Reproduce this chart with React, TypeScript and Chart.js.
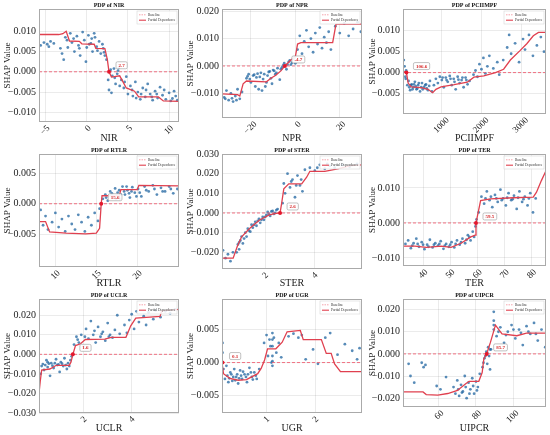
import React, { useEffect, useRef } from "react";
import Chart from "chart.js/auto";

Chart.defaults.font.family = "'Liberation Serif', 'DejaVu Serif', serif";
Chart.defaults.color = "#222";

type Pt = [number, number];

// NIR
const nirPoints: Pt[] = [
  [-5.6, 0.0065], [-5.2, 0.0072], [-4.8, 0.0068], [-4.6, 0.0062], [-4.4, 0.0075], [-4.0, 0.007],
  [-3.2, 0.0058], [-3.0, 0.0045], [-2.8, 0.003], [-2.6, 0.0085], [-2.4, 0.0078], [-2.3, 0.006],
  [-2.0, 0.0095], [-1.8, 0.0072], [-1.6, 0.0082], [-1.5, 0.005], [-1.2, 0.0088], [-1.0, 0.0065],
  [-0.9, 0.0058], [-0.8, 0.004], [-0.5, 0.0098], [-0.3, 0.0078], [-0.1, 0.0025], [0.0, 0.006],
  [0.2, 0.009], [0.3, 0.0068], [0.5, 0.007], [0.6, 0.0082], [0.7, 0.005], [0.9, 0.0095],
  [1.0, 0.0085], [1.2, 0.0062], [1.3, 0.0052], [1.5, 0.0075], [1.7, 0.0045], [1.9, 0.0068],
  [2.0, 0.0058], [2.1, 0.0048], [2.2, 0.004], [2.4, 0.003],
  [2.6, -0.002], [2.7, -0.0045], [2.9, 0.0005], [3.0, -0.0052], [3.1, -0.001], [3.3, 0.0008],
  [3.4, -0.0015], [3.5, -0.003], [3.7, -0.0005], [3.8, 0.0003], [3.9, 0.001], [4.0, -0.0035],
  [4.2, -0.002], [4.5, -0.004], [4.6, -0.0025], [4.8, -0.0012], [5.0, -0.0055], [5.3, -0.0035],
  [5.5, -0.0045], [5.6, -0.006], [5.9, -0.0025], [6.0, -0.0065], [6.2, -0.005], [6.5, -0.0068],
  [6.6, -0.0055], [6.8, -0.004], [7.1, -0.0062], [7.2, -0.0045], [7.4, -0.003], [7.7, -0.0055],
  [7.9, -0.0062], [8.0, -0.007], [8.3, -0.0048], [8.5, -0.0055], [8.6, -0.0065], [8.9, -0.0038],
  [9.2, -0.0058], [9.4, -0.0045], [9.6, -0.0068], [10.0, -0.0052], [10.2, -0.0072], [10.4, -0.0066],
  [10.6, -0.0048], [10.8, -0.006], [11.0, -0.007],
];
const nirCurve: Pt[] = [
  [-5.8, 0.0092], [-3.4, 0.0092], [-2.9, 0.0094], [-2.5, 0.01], [-2.1, 0.0076], [-0.9, 0.0075],
  [-0.6, 0.0069], [0.9, 0.0068], [1.1, 0.0058], [2.2, 0.0057], [2.5, 0.003], [2.7, 0.0],
  [3.0, -0.0013], [4.0, -0.001], [4.4, -0.0025], [4.8, -0.004], [5.8, -0.0048], [6.3, -0.0062],
  [8.7, -0.0062], [9.3, -0.0072], [11.2, -0.0073],
];
const nirXTicks = [-5, 0, 5, 10];
const nirYTicks = [-0.01, -0.005, 0, 0.005, 0.01];

// NPR
const nprPoints: Pt[] = [
  [-32, -0.0115], [-31.5, -0.012], [-31, -0.009], [-30, -0.0125], [-29, -0.01], [-28.5, -0.0118],
  [-28, -0.013], [-27, -0.011], [-26.5, -0.0125], [-26, -0.0085], [-25, -0.012], [-24, -0.0095],
  [-22, -0.0045], [-21.5, -0.0038], [-21, -0.003], [-20.5, -0.0048], [-20, -0.006], [-19, -0.0035],
  [-18.5, -0.0032], [-18, -0.0075], [-17.5, -0.0042], [-17, -0.0028], [-16.5, -0.0085], [-16, -0.004],
  [-15.5, -0.0025], [-15, -0.009], [-14.5, -0.0048], [-14, -0.003], [-13.5, -0.0075], [-13, -0.006],
  [-12.5, -0.0035], [-12, -0.0022], [-11.5, -0.002], [-11, -0.0045], [-10.5, -0.0065], [-10, -0.0015],
  [-9.5, -0.0018], [-9, -0.003], [-8.5, -0.0025], [-8, -0.0008], [-7, -0.005], [-6.5, -0.0012],
  [-6, -0.0005], [-5.5, 0.0002], [-5, 0.001], [-4, -0.0012], [-3.5, 0.0005], [-3, 0.0015],
  [-2.5, 0.002], [-2, 0.0005], [-1.5, 0.0012], [-1, 0.0025], [-0.5, 0.003], [0, 0.001],
  [1, 0.006], [2, 0.011], [3, 0.0045], [4, 0.009], [5, 0.013], [6, 0.007], [7, 0.01], [8, 0.005],
  [9, 0.012], [10, 0.008], [11, 0.014], [12, 0.0065], [13, 0.0105], [14, 0.0085], [15, 0.0125],
  [16, 0.006], [18, 0.0145], [20, 0.012], [22, 0.0155], [24, 0.011], [26, 0.0135], [28, 0.016],
  [29.5, 0.0125],
];
const nprCurve: Pt[] = [
  [-33, -0.0102], [-26, -0.0105], [-25, -0.011], [-23.5, -0.0065], [-22, -0.0055], [-13, -0.0058],
  [-11, -0.0045], [-8.8, -0.0034], [-6.5, -0.0018], [-4.7, 0.0], [-2, 0.0022], [0, 0.0033],
  [1, 0.008], [2.5, 0.0085], [16.8, 0.0085], [18.3, 0.0153], [30, 0.0153],
];
const nprXTicks = [-20, 0, 20];
const nprYTicks = [-0.01, 0, 0.01, 0.02];

// PCIIMPF
const pciPoints: Pt[] = [
  [40, 0.003], [60, 0.0015], [80, -0.001], [90, -0.0015], [100, 0.0005], [130, -0.003],
  [160, -0.002], [180, -0.0035], [200, -0.0042], [220, -0.003], [240, -0.0028], [260, -0.004],
  [280, -0.0035], [300, -0.0028], [320, -0.0022], [340, -0.0033], [360, -0.004], [380, -0.0038],
  [400, -0.003], [420, -0.0025], [450, -0.0045], [480, -0.0035], [500, -0.0025], [520, -0.004],
  [550, -0.0035], [580, -0.003], [600, -0.0028], [620, -0.0038], [650, -0.0042], [680, -0.0032],
  [700, -0.002], [750, -0.0045], [800, -0.003], [850, -0.0015], [900, -0.0025], [950, -0.001],
  [1000, -0.0018], [1020, -0.0012], [1050, -0.0035], [1100, -0.0012], [1120, -0.0018],
  [1150, -0.0022], [1200, -0.0008], [1220, -0.0015], [1250, -0.003], [1300, -0.0015],
  [1320, -0.0022], [1350, -0.004], [1400, -0.001], [1420, -0.0017], [1450, -0.0025],
  [1500, -0.0018], [1520, -0.0012], [1550, -0.0035], [1600, -0.0012], [1620, -0.0018],
  [1650, -0.0028], [1700, -0.002],
  [1800, -0.0005], [1850, 0.0005], [1900, -0.001], [1950, 0.002], [2000, 0.0008], [2050, 0.0035],
  [2100, -0.0002], [2150, 0.0015], [2200, 0.004], [2300, 0.001], [2400, 0.0025], [2450, -0.0005],
  [2550, 0.003], [2650, 0.006], [2700, 0.009], [2750, 0.0045], [2850, 0.007], [2950, 0.0025],
  [3050, 0.008], [3100, 0.0055], [3200, 0.009], [3300, 0.004], [3400, 0.0065], [3500, 0.0085],
  [3580, 0.005],
];
const pciCurve: Pt[] = [
  [20, 0.0003], [106.6, 0.0], [150, -0.0025], [230, -0.0034], [480, -0.0036], [650, -0.004],
  [770, -0.0048], [850, -0.004], [980, -0.0034], [1310, -0.0029], [1645, -0.0023], [1810, -0.0011],
  [2060, -0.0008], [2355, 0.0], [2560, 0.0008], [2730, 0.003], [2980, 0.0053], [3145, 0.0069],
  [3310, 0.0088], [3440, 0.0096], [3630, 0.0096],
];
const pciXTicks = [1000, 2000, 3000];
const pciYTicks = [-0.005, 0, 0.005, 0.01];

// RTLR
const rtlrPoints: Pt[] = [
  [8.2, -0.001], [8.5, -0.0035], [8.8, -0.002], [9.1, -0.0042], [9.6, -0.003], [10.0, -0.0015],
  [10.4, -0.0038], [10.8, -0.0025], [11.2, -0.0045], [11.6, -0.002], [12.0, -0.0033],
  [12.4, -0.0042], [12.8, -0.0018], [13.2, -0.003], [13.6, -0.0045], [14.0, -0.0022],
  [14.4, -0.0035], [14.8, -0.0015], [15.2, -0.0028], [15.4, -0.0008],
  [15.8, 0.0008], [16.1, 0.0015], [16.2, 0.001], [16.4, 0.0005], [16.7, 0.002], [16.9, 0.0017],
  [17.0, 0.0012], [17.3, 0.0025], [17.4, 0.0008], [17.6, 0.0018], [17.8, 0.0022], [17.9, 0.0008],
  [18.0, 0.0015], [18.2, 0.0028], [18.4, 0.002], [18.5, 0.0015], [18.7, 0.0028], [18.8, 0.0022],
  [19.0, 0.0017], [19.1, 0.001], [19.3, 0.002], [19.4, 0.0027], [19.7, 0.0018], [19.9, 0.0012],
  [20.1, 0.0024], [20.3, 0.0018], [20.5, 0.0012], [20.9, 0.0028], [21.1, 0.0022], [21.4, 0.002],
  [21.9, 0.003], [22.1, 0.0024], [22.4, 0.0015], [22.9, 0.0026], [23.1, 0.002], [23.4, 0.002],
  [23.9, 0.0028], [24.1, 0.0024], [24.4, 0.0017], [24.9, 0.0024],
];
const rtlrCurve: Pt[] = [
  [8.0, -0.0029], [8.8, -0.0029], [9.3, -0.0046], [11.3, -0.0048], [13.7, -0.0049], [15.0, -0.0048],
  [15.4, -0.004], [15.6, 0.0], [15.7, 0.0013], [17.8, 0.0013], [18.0, 0.0023], [20.0, 0.0023],
  [20.2, 0.003], [25.1, 0.0029],
];
const rtlrXTicks = [10, 15, 20];
const rtlrYTicks = [-0.005, 0, 0.005];

// STER
const sterPoints: Pt[] = [
  [0.3, -0.019], [0.4, -0.023], [0.5, -0.021], [0.6, -0.0245], [0.7, -0.02],
  [0.85, -0.02], [0.9, -0.016], [0.95, -0.0185], [0.95, -0.015], [1.0, -0.014], [1.05, -0.012],
  [1.1, -0.0155], [1.15, -0.013], [1.2, -0.01], [1.25, -0.012], [1.3, -0.008], [1.35, -0.009],
  [1.4, -0.0095], [1.45, -0.006], [1.5, -0.0075], [1.55, -0.006], [1.6, -0.0045], [1.65, -0.0065],
  [1.7, -0.004], [1.75, -0.003], [1.8, -0.005], [1.85, -0.0035], [1.9, -0.002], [1.95, -0.0035],
  [2.0, -0.002], [2.05, -0.001], [2.1, 0.0005], [2.15, -0.0005], [2.2, -0.0015], [2.25, 0.0008],
  [2.3, 0.001], [2.35, -0.0005], [2.4, 0.0], [2.45, 0.0015], [2.5, 0.002],
  [2.7, 0.005], [2.75, 0.015], [2.8, 0.01], [2.9, 0.02], [3.0, 0.013], [3.05, 0.016], [3.1, 0.017],
  [3.2, 0.008], [3.25, 0.014], [3.3, 0.019], [3.4, 0.014], [3.45, 0.017], [3.5, 0.011], [3.6, 0.022],
  [3.8, 0.023], [4.0, 0.0215], [4.1, 0.023], [4.2, 0.0245], [4.4, 0.0225], [4.5, 0.025], [4.6, 0.024],
  [4.8, 0.023], [5.1, 0.0245], [5.4, 0.0235], [5.7, 0.025],
];
const sterCurve: Pt[] = [
  [0.26, -0.023], [0.71, -0.023], [0.87, -0.0172], [1.05, -0.0121], [1.37, -0.0079], [1.76, -0.0037],
  [2.16, -0.001], [2.45, -0.0002], [2.6, 0.0], [2.66, 0.0047], [2.75, 0.0123], [2.95, 0.0148],
  [3.47, 0.0148], [3.67, 0.0182], [3.8, 0.0212], [4.4, 0.0212], [4.92, 0.0224], [5.45, 0.0241],
  [5.9, 0.0245],
];
const sterXTicks = [2, 4];
const sterYTicks = [-0.02, -0.01, 0, 0.01, 0.02, 0.03];

// TER
const terPoints: Pt[] = [
  [33.5, -0.006], [34.5, -0.005], [35.5, -0.0072], [36, -0.0065], [36.5, -0.0058], [37.5, -0.0045],
  [38, -0.006], [38.5, -0.0068], [39.5, -0.0055], [40, -0.0062], [40.5, -0.0075], [41.5, -0.0062],
  [42, -0.0068], [42.5, -0.0048], [43.5, -0.007], [44, -0.0062], [44.5, -0.0058], [45.5, -0.0065],
  [46, -0.006], [46.5, -0.0052], [47.5, -0.0074], [48, -0.0065], [48.5, -0.006], [49.5, -0.0068],
  [50, -0.0062], [50.5, -0.0055], [51.5, -0.007], [52, -0.006], [52.5, -0.005], [53.5, -0.0062],
  [54, -0.0055], [54.5, -0.0045], [55.5, -0.0058], [56, -0.0048], [56.5, -0.0035], [57, -0.004],
  [57.5, -0.005], [58.3, -0.0025], [58.8, -0.004], [59.3, -0.001], [59.7, 0.001],
  [60.5, 0.003], [61.5, 0.0075], [62.5, 0.0055], [63, 0.007], [63.5, 0.009], [64.5, 0.0065],
  [65, 0.0075], [65.5, 0.0045], [66.5, 0.008], [67, 0.007], [67.5, 0.006], [68.5, 0.0095],
  [69, 0.0065], [69.5, 0.007], [70.5, 0.005], [71, 0.0072], [71.5, 0.0085], [72.5, 0.0065],
  [73, 0.0068], [73.5, 0.0078], [74.5, 0.004], [75, 0.0072], [75.5, 0.009], [76.5, 0.006],
  [77, 0.0068], [77.5, 0.0075], [78.5, 0.005], [79, 0.007], [79.5, 0.0085], [80.5, 0.003],
  [81.5, 0.007],
];
const terCurve: Pt[] = [
  [32.6, -0.0066], [37.0, -0.0066], [41.2, -0.007], [46.7, -0.0066], [50.3, -0.007], [54.0, -0.0058],
  [57.6, -0.004], [59.2, -0.0035], [59.5, 0.0], [61.2, 0.0064], [64.9, 0.0069], [73.3, 0.0072],
  [80.6, 0.0074], [81.8, 0.0088], [83.6, 0.0121], [85.3, 0.0149],
];
const terXTicks = [40, 50, 60, 70, 80];
const terYTicks = [-0.01, 0, 0.01];

// UCLR
const uclrPoints: Pt[] = [
  [0.2, -0.01], [0.25, -0.006], [0.3, -0.005], [0.35, -0.008], [0.4, -0.0055], [0.45, -0.003],
  [0.5, -0.0065], [0.5, -0.004], [0.55, -0.0048], [0.6, -0.011], [0.65, -0.0045], [0.7, -0.0058],
  [0.75, -0.007], [0.8, -0.0045], [0.85, -0.0025], [0.9, -0.0055], [0.95, -0.0052], [1.0, -0.009],
  [1.05, -0.004], [1.1, -0.0048], [1.15, -0.006], [1.2, -0.002], [1.25, -0.0055], [1.3, -0.0075],
  [1.35, -0.0045], [1.4, -0.006], [1.45, -0.003], [1.5, -0.001],
  [1.6, 0.005], [1.7, 0.009], [1.75, 0.0075], [1.8, 0.006], [1.9, 0.01], [2.0, 0.004], [2.05, 0.009],
  [2.1, 0.013], [2.2, 0.008], [2.3, 0.017], [2.4, 0.01], [2.45, 0.012], [2.5, 0.006], [2.6, 0.014],
  [2.7, 0.009], [2.75, 0.0105], [2.8, 0.0115], [2.9, 0.007], [3.0, 0.016], [3.05, 0.009],
  [3.1, 0.01], [3.2, 0.0085], [3.3, 0.0125], [3.4, 0.02], [3.5, 0.0105],
  [3.7, 0.015], [3.8, 0.011], [3.9, 0.0175], [4.0, 0.0205], [4.1, 0.013], [4.2, 0.022], [4.3, 0.0165],
  [4.5, 0.0195], [4.6, 0.015], [4.7, 0.0215], [4.9, 0.018], [5.0, 0.0225], [5.2, 0.019],
  [5.4, 0.022], [5.6, 0.021], [5.8, 0.023],
];
const uclrCurve: Pt[] = [
  [0.14, -0.02], [0.19, -0.014], [0.25, -0.0081], [0.59, -0.0075], [0.86, -0.0056], [1.4, -0.0056],
  [1.47, -0.004], [1.55, 0.0], [1.66, 0.0045], [1.87, 0.0054], [2.07, 0.0076], [2.88, 0.0078],
  [3.15, 0.0087], [3.76, 0.0087], [3.96, 0.0146], [4.17, 0.0185], [5.18, 0.0194], [5.25, 0.0222],
  [5.97, 0.023],
];
const uclrXTicks = [2, 4];
const uclrYTicks = [-0.03, -0.02, -0.01, 0, 0.01, 0.02];

// UGR
const ugrPoints: Pt[] = [
  [0.1, 0.003], [0.1, 0.0015], [0.12, -0.001], [0.15, -0.0025], [0.18, -0.0005], [0.2, -0.002],
  [0.22, -0.003], [0.24, -0.0024], [0.26, -0.0015], [0.28, -0.0018], [0.3, -0.0028], [0.32, -0.0022],
  [0.34, -0.001], [0.36, -0.0027], [0.38, -0.0022], [0.4, -0.0018], [0.42, -0.0032], [0.44, -0.0024],
  [0.46, -0.0012], [0.48, -0.002], [0.5, -0.0025], [0.52, -0.0014], [0.55, -0.0018], [0.58, -0.0022],
  [0.6, -0.003], [0.62, -0.0018], [0.65, -0.0008], [0.68, -0.0015], [0.7, -0.0022], [0.72, -0.0026],
  [0.75, -0.0015], [0.78, -0.002], [0.8, -0.0025], [0.85, -0.001],
  [0.95, 0.003], [1.0, 0.0042], [1.03, 0.001], [1.06, 0.0035], [1.08, 0.0025], [1.1, 0.0],
  [1.12, 0.0045], [1.12, 0.0035], [1.12, 0.0025], [1.12, 0.001], [1.12, 0.0002], [1.12, -0.0005],
  [1.15, 0.0038], [1.2, 0.0015], [1.25, 0.003], [1.3, 0.0008],
  [1.45, 0.004], [1.55, 0.0044], [1.65, 0.0038], [1.72, 0.0042], [1.8, 0.0005], [1.95, 0.002],
  [2.05, -0.0002], [2.2, 0.0038], [2.3, 0.0045], [2.45, 0.0012], [2.6, 0.0028], [2.75, 0.0018],
  [2.85, 0.0005], [2.9, 0.0022],
];
const ugrCurve: Pt[] = [
  [0.09, 0.0], [0.12, -0.0017], [0.25, -0.0024], [0.42, -0.0027], [0.59, -0.0026], [0.82, -0.0017],
  [0.89, -0.0009], [0.96, 0.0004], [1.02, 0.0021], [1.19, 0.0021], [1.32, 0.0031], [1.42, 0.0047],
  [1.69, 0.0049], [1.75, 0.0035], [2.12, 0.0035], [2.22, 0.0014], [2.32, 0.0014], [2.39, -0.0002],
  [2.51, -0.0014], [2.95, -0.0014],
];
const ugrXTicks = [1, 2];
const ugrYTicks = [-0.005, 0, 0.005];

// UIPCR
const uipcrPoints: Pt[] = [
  [44, -0.0045], [45, -0.01], [47, -0.013], [51, -0.004], [52, -0.006], [53, -0.005], [59, -0.0145],
  [61, -0.016], [64, -0.0105],
  [68, -0.015], [69, -0.018], [70, -0.012], [70.5, -0.016], [71, -0.019], [72, -0.014], [72.5, -0.0175],
  [73, -0.017], [74, -0.01], [74.5, -0.015], [75, -0.02], [76, -0.013], [76.5, -0.018], [77, -0.016],
  [78, -0.011], [78.5, -0.0145], [79, -0.018], [80, -0.0125], [80.5, -0.0165], [81, -0.015],
  [82, -0.009],
  [83.5, -0.006], [84, -0.004], [84.5, -0.002], [85, -0.001], [85.5, 0.001], [86, -0.0045],
  [86, 0.0005], [86.5, 0.003], [87, -0.001], [87.5, -0.007], [87.5, 0.002], [88, 0.002],
  [89.5, 0.011], [89.5, 0.015], [89.5, 0.019], [89.5, 0.013],
  [91, 0.008], [92, 0.01], [93, 0.012], [95, 0.005], [96, 0.0085], [97, 0.01], [99, 0.013],
  [100, 0.011], [101, 0.007], [103, 0.011], [104, 0.0095], [105, 0.004], [107, 0.0125], [108, 0.01],
  [109, 0.009], [111, 0.014], [112, 0.009], [113, 0.006], [115, 0.011], [117, 0.003],
];
const uipcrCurve: Pt[] = [
  [41, -0.0172], [51.7, -0.0172], [53.4, -0.0184], [59.6, -0.0186], [64.9, -0.0179], [70.1, -0.0165],
  [74.5, -0.0135], [76.3, -0.0124], [81.5, -0.0124], [83.3, -0.0084], [84.2, -0.0022], [85.7, 0.0],
  [87.7, 0.0052], [90.4, 0.013], [93.9, 0.009], [101.8, 0.0082], [107, 0.0094], [117.4, 0.0094],
];
const uipcrXTicks = [60, 80, 100];
const uipcrYTicks = [-0.02, -0.01, 0, 0.01, 0.02];

interface Panel {
  name: string;
  points: Pt[];
  curve: Pt[];
  cross: number;
  xRange: [number, number];
  yRange: [number, number];
  xTicks: number[];
  yTicks: number[];
  // plot box inside the canvas
  yAxisW: number;
  xAxisH: number;
  top: number;
  right: number;
  labelShift: number;
}

const panels: Panel[] = [
  { name: "NIR", points: nirPoints, curve: nirCurve, cross: 2.7, xRange: [-5.8, 11.2], yRange: [-0.0124, 0.0155], xTicks: nirXTicks, yTicks: nirYTicks, yAxisW: 39, xAxisH: 23, top: 8, right: 0, labelShift: 3 },
  { name: "NPR", points: nprPoints, curve: nprCurve, cross: -4.7, xRange: [-33, 30], yRange: [-0.019, 0.0208], xTicks: nprXTicks, yTicks: nprYTicks, yAxisW: 39, xAxisH: 27, top: 8, right: 1, labelShift: 4.5 },
  { name: "PCIIMPF", points: pciPoints, curve: pciCurve, cross: 106.6, xRange: [20, 3630], yRange: [-0.0099, 0.0152], xTicks: pciXTicks, yTicks: pciYTicks, yAxisW: 37, xAxisH: 31, top: 8, right: 2, labelShift: 6 },
  { name: "RTLR", points: rtlrPoints, curve: rtlrCurve, cross: 15.6, xRange: [8.0, 25.1], yRange: [-0.0103, 0.0081], xTicks: rtlrXTicks, yTicks: rtlrYTicks, yAxisW: 39, xAxisH: 23, top: 8, right: 0, labelShift: 3.4 },
  { name: "STER", points: sterPoints, curve: sterCurve, cross: 2.6, xRange: [0.26, 5.9], yRange: [-0.0285, 0.03], xTicks: sterXTicks, yTicks: sterYTicks, yAxisW: 39, xAxisH: 21, top: 9, right: 1, labelShift: 1.8 },
  { name: "TER", points: terPoints, curve: terCurve, cross: 59.5, xRange: [32.6, 85.3], yRange: [-0.0123, 0.0197], xTicks: terXTicks, yTicks: terYTicks, yAxisW: 37, xAxisH: 24, top: 8, right: 2, labelShift: 3.4 },
  { name: "UCLR", points: uclrPoints, curve: uclrCurve, cross: 1.55, xRange: [0.14, 5.97], yRange: [-0.03, 0.0283], xTicks: uclrXTicks, yTicks: uclrYTicks, yAxisW: 39, xAxisH: 22, top: 8, right: 0, labelShift: 1.8 },
  { name: "UGR", points: ugrPoints, curve: ugrCurve, cross: 0.1, xRange: [0.09, 2.95], yRange: [-0.0077, 0.0097], xTicks: ugrXTicks, yTicks: ugrYTicks, yAxisW: 39, xAxisH: 22, top: 8, right: 1, labelShift: 1.8 },
  { name: "UIPCR", points: uipcrPoints, curve: uipcrCurve, cross: 85.7, xRange: [41, 117.4], yRange: [-0.024, 0.0248], xTicks: uipcrXTicks, yTicks: uipcrYTicks, yAxisW: 37, xAxisH: 28, top: 8, right: 2, labelShift: 4 },
];

const colX = [0, 183, 366];
const colW = [183, 183, 184];
const rowH = 145;

const minus = (s: string) => s.replace("-", "\u2212");
const fmtY = (v: number) => (Math.abs(v) < 1e-9 ? "0.000" : minus(v.toFixed(3)));
const fmtX = (v: number) => minus(String(Math.round(v)));

const RED = "#e0404f";

const PdpPanel: React.FC<{ panel: Panel; width: number; height: number }> = ({
  panel,
  width,
  height,
}) => {
  const canvasRef = useRef<HTMLCanvasElement>(null);
  const chartRef = useRef<Chart | null>(null);

  useEffect(() => {
    if (!canvasRef.current) return;
    const p = panel;

    const notes = {
      id: "notes",
      afterDatasetsDraw(chart: Chart) {
        const { ctx, chartArea: a, scales } = chart;
        ctx.save();

        // axes frame
        ctx.strokeStyle = "#aaaaaa";
        ctx.lineWidth = 1;
        ctx.strokeRect(a.left + 0.5, a.top + 0.5, a.right - a.left - 1, a.bottom - a.top - 1);

        // title
        ctx.fillStyle = "#111";
        ctx.font = "bold 6px 'Liberation Serif', serif";
        ctx.textAlign = "center";
        ctx.textBaseline = "middle";
        ctx.fillText(`PDP of ${p.name}`, (a.left + a.right) / 2, a.top - 4);

        // crossing label
        const cx = scales.x.getPixelForValue(p.cross);
        const cy = scales.y.getPixelForValue(0);
        const text = p.cross.toFixed(1);
        ctx.font = "bold 5px 'Liberation Serif', serif";
        const tw = ctx.measureText(text).width;
        const bw = tw + 5;
        const bh = 7;
        const bx = cx + 7;
        const by = cy - 10;
        ctx.beginPath();
        ctx.roundRect(bx, by, bw, bh, 1.5);
        ctx.fillStyle = "rgba(255,255,255,0.92)";
        ctx.fill();
        ctx.strokeStyle = "#999";
        ctx.lineWidth = 0.6;
        ctx.stroke();
        ctx.fillStyle = "#d62728";
        ctx.textAlign = "left";
        ctx.fillText(text, bx + 2.5, by + bh / 2 + 0.3);

        // legend
        const lw = 40;
        const lh = 13;
        const lx = a.right - lw - 2;
        const ly = a.top + 2;
        ctx.fillStyle = "rgba(255,255,255,0.85)";
        ctx.fillRect(lx, ly, lw, lh);
        ctx.strokeStyle = "#d0d0d0";
        ctx.lineWidth = 0.5;
        ctx.strokeRect(lx, ly, lw, lh);
        ctx.font = "3.5px 'Liberation Serif', serif";
        ctx.fillStyle = "#333";
        const rows: [string, boolean][] = [
          ["Baseline", true],
          ["Partial Dependence", false],
        ];
        rows.forEach(([label, dashed], i) => {
          const yy = ly + 3.8 + i * 5.4;
          ctx.beginPath();
          ctx.setLineDash(dashed ? [1.5, 1] : []);
          ctx.strokeStyle = dashed ? "rgba(240,110,125,0.8)" : RED;
          ctx.lineWidth = dashed ? 0.8 : 1.1;
          ctx.moveTo(lx + 2, yy);
          ctx.lineTo(lx + 9, yy);
          ctx.stroke();
          ctx.setLineDash([]);
          ctx.fillText(label, lx + 11, yy + 0.2);
        });

        ctx.restore();
      },
    };

    chartRef.current = new Chart(canvasRef.current, {
      type: "scatter",
      data: {
        datasets: [
          {
            label: "crossing",
            data: [{ x: p.cross, y: 0 }],
            pointRadius: 2,
            backgroundColor: "#e3182d",
            borderWidth: 0,
            order: 0,
          },
          {
            label: "Partial Dependence",
            data: p.curve.map(([x, y]) => ({ x, y })),
            showLine: true,
            borderColor: RED,
            borderWidth: 1.3,
            pointRadius: 0,
            order: 1,
          },
          {
            label: "Baseline",
            data: [
              { x: p.xRange[0], y: 0 },
              { x: p.xRange[1], y: 0 },
            ],
            showLine: true,
            borderColor: "rgba(240,90,110,0.85)",
            borderDash: [3, 2],
            borderWidth: 1,
            pointRadius: 0,
            order: 2,
          },
          {
            label: "SHAP",
            data: p.points.map(([x, y]) => ({ x, y })),
            pointRadius: 1.4,
            backgroundColor: "rgba(31,100,160,0.75)",
            borderWidth: 0,
            order: 3,
          },
        ],
      },
      options: {
        animation: false,
        responsive: false,
        layout: { padding: { top: p.top, right: p.right, left: 0, bottom: 0 } },
        plugins: {
          legend: { display: false },
          tooltip: { enabled: false },
          title: { display: false },
        },
        scales: {
          x: {
            type: "linear",
            min: p.xRange[0],
            max: p.xRange[1],
            afterBuildTicks: (s: any) => {
              s.ticks = p.xTicks.map((v) => ({ value: v }));
            },
            afterFit: (s: any) => {
              s.height = p.xAxisH;
            },
            grid: { color: "rgba(0,0,0,0.08)", drawTicks: false },
            border: { display: false },
            ticks: {
              font: { size: 9 },
              color: "#222",
              padding: 1,
              minRotation: 45,
              maxRotation: 45,
              autoSkip: false,
              labelOffset: p.labelShift,
              callback: (v: any) => fmtX(Number(v)),
            },
            title: {
              display: true,
              text: p.name,
              font: { size: 10 },
              color: "#222",
              padding: { top: 0, bottom: 1 },
            },
          },
          y: {
            type: "linear",
            min: p.yRange[0],
            max: p.yRange[1],
            afterBuildTicks: (s: any) => {
              s.ticks = p.yTicks.map((v) => ({ value: v }));
            },
            afterFit: (s: any) => {
              s.width = p.yAxisW;
            },
            grid: { color: "rgba(0,0,0,0.08)", drawTicks: false },
            border: { display: false },
            ticks: {
              font: { size: 10 },
              color: "#222",
              padding: 3,
              autoSkip: false,
              callback: (v: any) => fmtY(Number(v)),
            },
            title: {
              display: true,
              text: "SHAP Value",
              font: { size: 9 },
              color: "#222",
              padding: { top: p.yAxisW > 38 ? 2 : 1, bottom: 0 },
            },
          },
        },
      },
      plugins: [notes],
    });

    return () => {
      if (chartRef.current) {
        chartRef.current.destroy();
        chartRef.current = null;
      }
    };
  }, [panel]);

  return (
    <canvas
      ref={canvasRef}
      width={width}
      height={height}
      style={{ width: `${width}px`, height: `${height}px`, display: "block" }}
    />
  );
};

export default function App() {
  return (
    <div
      style={{
        position: "fixed",
        left: 0,
        top: 0,
        width: 550,
        height: 435,
        background: "#fff",
      }}
    >
      {panels.map((p, i) => (
        <div
          key={p.name}
          style={{ position: "absolute", left: colX[i % 3], top: Math.floor(i / 3) * rowH }}
        >
          <PdpPanel panel={p} width={colW[i % 3]} height={rowH} />
        </div>
      ))}
    </div>
  );
}
